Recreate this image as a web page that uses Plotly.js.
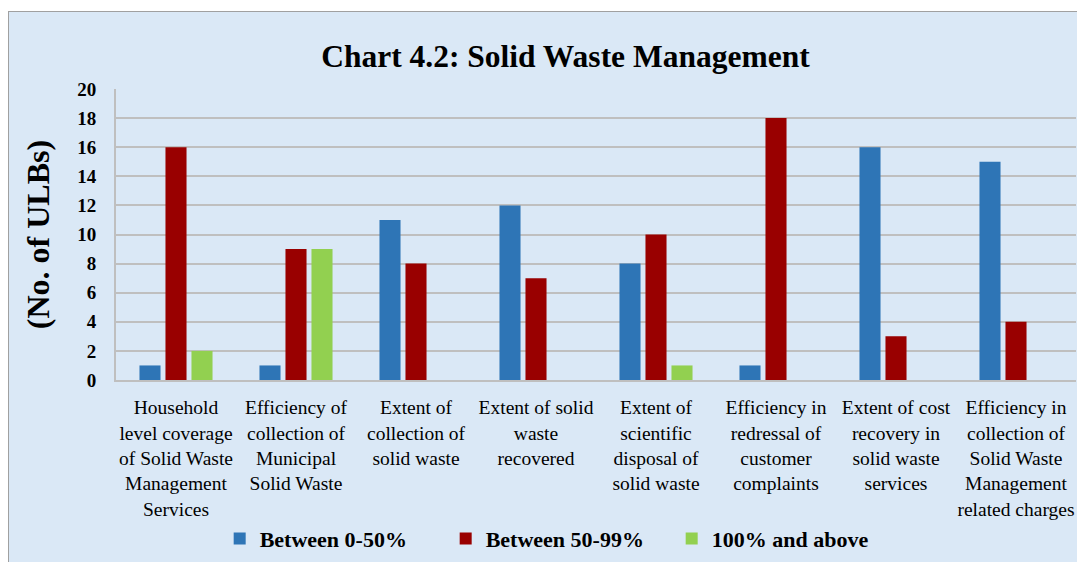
<!DOCTYPE html>
<html>
<head>
<meta charset="utf-8">
<script src="https://cdn.plot.ly/plotly-3.0.1.min.js"></script>
<style>
  html, body { margin: 0; padding: 0; background: #ffffff; width: 1077px; height: 562px; overflow: hidden; }
  #frame { position: absolute; left: 8px; top: 11px; width: 1075px; height: 556px; background: #dae8f6; border: 1px solid #a0a0a0; box-sizing: border-box; }
  #chart { position: absolute; left: 0; top: 0; width: 1077px; height: 562px; }
</style>
</head>
<body>
<div id="frame"></div>
<div id="chart"></div>
<script>
const categories = [
  "Household<br>level coverage<br>of Solid Waste<br>Management<br>Services",
  "Efficiency of<br>collection of<br>Municipal<br>Solid Waste",
  "Extent of<br>collection of<br>solid waste",
  "Extent of solid<br>waste<br>recovered",
  "Extent of<br>scientific<br>disposal of<br>solid waste",
  "Efficiency in<br>redressal of<br>customer<br>complaints",
  "Extent of cost<br>recovery in<br>solid waste<br>services",
  "Efficiency in<br>collection of<br>Solid Waste<br>Management<br>related charges"
];
const seriesNames = ["Between 0-50%", "Between 50-99%", "100% and above"];
const between0to50 = [1, 1, 11, 12, 8, 1, 16, 15];
const between50to99 = [16, 9, 8, 7, 10, 18, 3, 4];
const above100 = [2, 9, 0, 0, 1, 0, 0, 0];
const seriesColors = ["#2e75b6", "#990000", "#92d050"];
const yTicks = [0, 2, 4, 6, 8, 10, 12, 14, 16, 18, 20];

const allValues = [between0to50, between50to99, above100];
const traces = allValues.map((vals, i) => ({
  type: "bar",
  name: "<b>" + seriesNames[i] + "</b>",
  x: categories,
  y: vals,
  marker: { color: seriesColors[i] }
}));

const serif = "'Liberation Serif', 'Times New Roman', serif";

const layout = {
  width: 1077,
  height: 562,
  paper_bgcolor: "rgba(0,0,0,0)",
  plot_bgcolor: "rgba(0,0,0,0)",
  margin: { l: 116, r: 1, t: 89, b: 182 },
  barmode: "group",
  bargap: 0.35,
  bargroupgap: 0.19,
  title: {
    text: "<b>Chart 4.2: Solid Waste Management</b>",
    font: { family: serif, size: 31.5, color: "#000000" },
    x: 0.525, xanchor: "center",
    y: 0.9, yref: "container", yanchor: "middle"
  },
  xaxis: {
    type: "category",
    tickfont: { family: serif, size: 19.5, color: "#000000" },
    showline: true, linecolor: "#bfbfbf", linewidth: 2,
    ticks: "", tickangle: 0,
    ticklabelstandoff: 9,
    showgrid: false
  },
  yaxis: {
    range: [0, 20],
    tickvals: yTicks,
    ticktext: yTicks.map(v => "<b>" + v + "</b>"),
    tickfont: { family: serif, size: 19, color: "#000000" },
    showgrid: true, gridcolor: "#bfbfbf", gridwidth: 2,
    showline: true, linecolor: "#bfbfbf", linewidth: 2,
    zeroline: false,
    ticks: "", ticklabelstandoff: 14,
    title: {
      text: "<b>(No. of ULBs)</b>",
      font: { family: serif, size: 32, color: "#000000" },
      standoff: 18
    }
  },
  showlegend: true,
  legend: {
    orientation: "h",
    x: 0.108, xanchor: "left",
    y: -0.545, yanchor: "middle",
    font: { family: serif, size: 22, color: "#000000" },
    entrywidth: 181,
    bgcolor: "rgba(0,0,0,0)",
    itemwidth: 30
  }
};

Plotly.newPlot("chart", traces, layout, { displayModeBar: false, staticPlot: true });
</script>
</body>
</html>
